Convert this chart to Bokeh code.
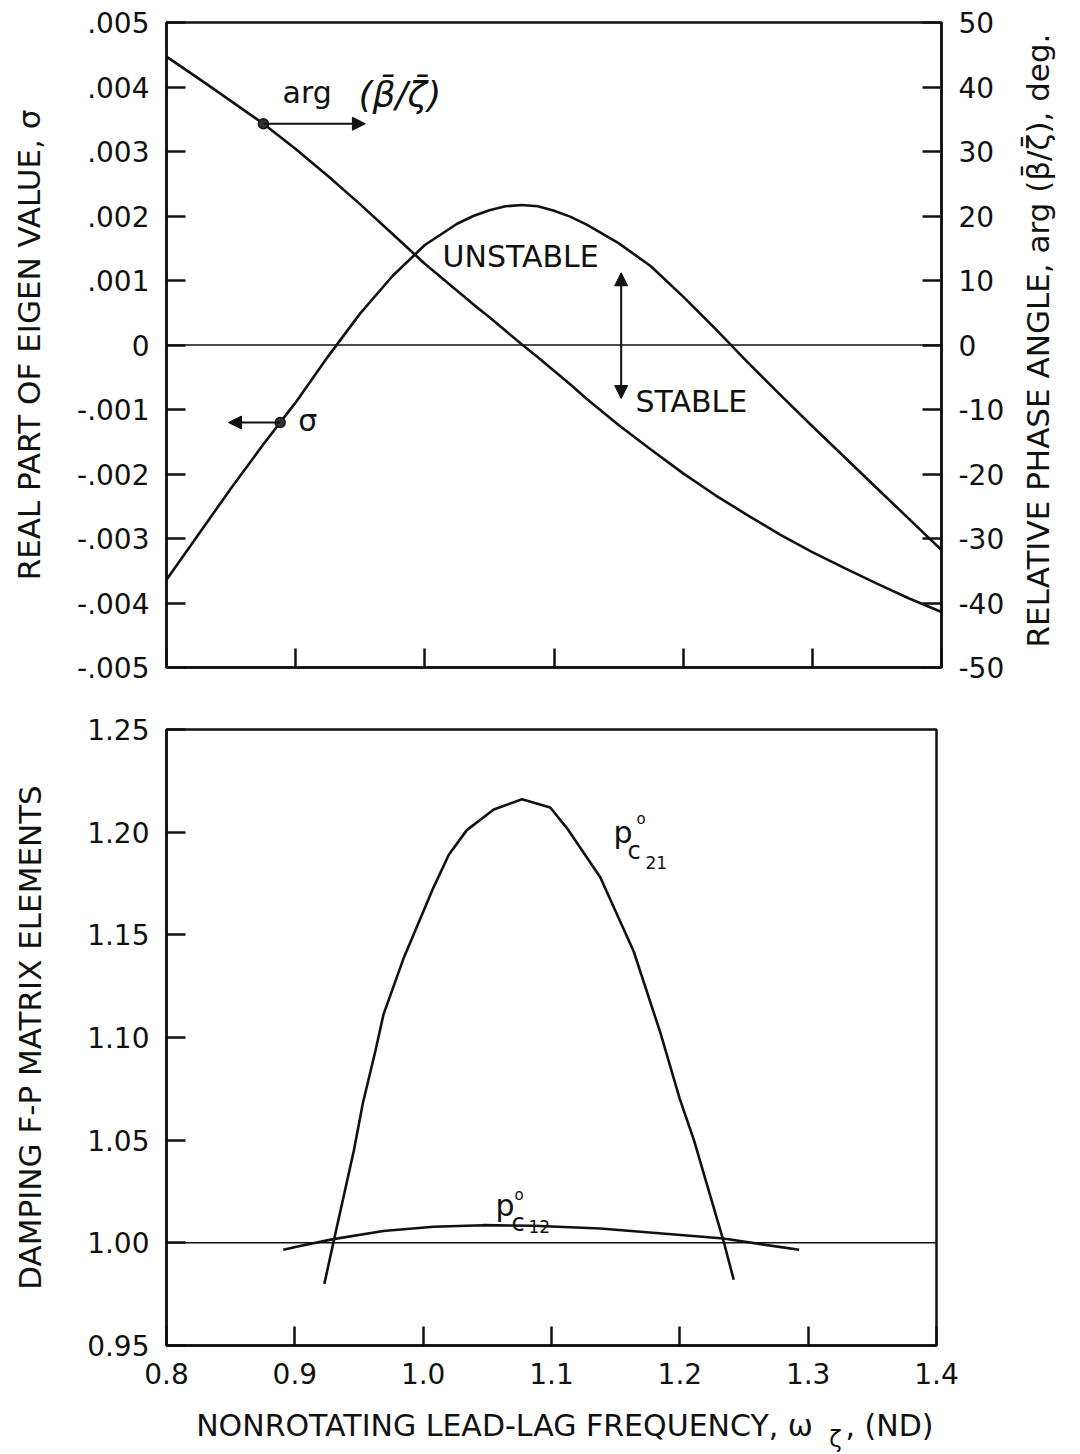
import math
import numpy as np
from bokeh.plotting import figure
from bokeh.models import (Range1d, LinearAxis, FixedTicker, CustomJSTickFormatter,
                          PrintfTickFormatter, Label, Arrow, NormalHead, Span)
from bokeh.layouts import column, row
from bokeh.embed import file_html
from bokeh.resources import INLINE

# ---------------- data ----------------
freq_top = [0.800, 0.825, 0.850, 0.875, 0.900, 0.925, 0.950, 0.975, 1.000, 1.025,
            1.0375, 1.050, 1.0625, 1.075, 1.0875, 1.100, 1.1125, 1.125, 1.150, 1.175,
            1.200, 1.225, 1.250, 1.275, 1.300, 1.325, 1.350, 1.375, 1.400]
sigma = [-0.00364, -0.00293, -0.00222, -0.00154, -0.00089, -0.00018, 0.00049, 0.00107,
         0.00155, 0.00188, 0.00200, 0.00209, 0.00215, 0.00217, 0.00215, 0.00208,
         0.00199, 0.00187, 0.00158, 0.00122, 0.00075, 0.00025, -0.00027, -0.00077,
         -0.00126, -0.00174, -0.00222, -0.00270, -0.00318]
phase_deg = [44.7, 41.3, 37.8, 34.3, 30.4, 26.2, 21.8, 17.2, 12.6, 8.4,
             6.3, 4.3, 2.2, 0.1, -1.9, -4.0, -6.1, -8.3, -12.4, -16.2,
             -19.9, -23.3, -26.4, -29.4, -32.1, -34.6, -37.0, -39.3, -41.4]

freq_p21 = [0.923, 0.930, 0.946, 0.953, 0.963, 0.969, 0.985, 1.008, 1.020, 1.034,
            1.055, 1.077, 1.099, 1.112, 1.138, 1.164, 1.185, 1.200, 1.211, 1.234, 1.242]
p_c21 = [0.980, 1.000, 1.045, 1.068, 1.094, 1.111, 1.139, 1.173, 1.189, 1.201,
         1.211, 1.216, 1.212, 1.202, 1.178, 1.142, 1.102, 1.070, 1.050, 1.001, 0.982]

freq_p12 = [0.891, 0.904, 0.930, 0.969, 1.008, 1.047, 1.086, 1.138, 1.203, 1.234,
            1.268, 1.293]
p_c12 = [0.9966, 0.9985, 1.0018, 1.0058, 1.0078, 1.0086, 1.0083, 1.0070, 1.0037,
         1.0021, 0.9989, 0.9966]

x_ticks = [0.8, 0.9, 1.0, 1.1, 1.2, 1.3, 1.4]
sigma_ticks = [-0.005, -0.004, -0.003, -0.002, -0.001, 0.0, 0.001, 0.002, 0.003, 0.004, 0.005]
phase_ticks = [-50, -40, -30, -20, -10, 0, 10, 20, 30, 40, 50]
damp_ticks = [0.95, 1.00, 1.05, 1.10, 1.15, 1.20, 1.25]

# marker positions on the curves (frequency)
arg_marker_f = 0.875
sigma_marker_f = 0.888

FONT = "DejaVu Sans"
INK = "#111111"


def style(p):
    p.outline_line_color = INK
    p.outline_line_width = 2.5
    p.outline_line_alpha = 1.0
    p.background_fill_color = "white"
    p.border_fill_color = "white"
    p.grid.visible = False
    for ax in p.axis:
        ax.axis_line_width = 2.5
        ax.axis_line_color = INK
        ax.major_tick_in = 19
        ax.major_tick_out = 0
        ax.major_tick_line_width = 2.5
        ax.major_tick_line_color = INK
        ax.minor_tick_line_color = None
        ax.major_label_text_font = FONT
        ax.major_label_text_font_size = "28px"
        ax.major_label_text_color = INK
        ax.major_label_standoff = 17
        ax.axis_label_text_font = FONT
        ax.axis_label_text_font_style = "normal"
        ax.axis_label_text_font_size = "31px"
        ax.axis_label_text_color = INK


def text_strip(width, height, x_range, y_range, **borders):
    s = figure(width=width, height=height, output_backend="svg", toolbar_location=None,
               x_range=x_range, y_range=y_range, x_axis_type=None, y_axis_type=None,
               **borders)
    s.outline_line_color = None
    s.grid.visible = False
    s.background_fill_color = "white"
    s.border_fill_color = "white"
    return s


lbl = dict(text_font=FONT, text_color=INK)
ab = dict(text_baseline="alphabetic", **lbl)

# ---------------- top panel ----------------
p1 = figure(width=1011, height=705, output_backend="svg", toolbar_location=None,
            x_range=Range1d(0.8, 1.4), y_range=Range1d(-0.005, 0.005),
            min_border_left=166, min_border_right=70, min_border_top=22,
            min_border_bottom=38)
p1.extra_y_ranges = {"phase": Range1d(-50, 50)}
right_ax = LinearAxis(y_range_name="phase")
p1.add_layout(right_ax, "right")
style(p1)
p1.xaxis.ticker = FixedTicker(ticks=x_ticks)
p1.xaxis.formatter = CustomJSTickFormatter(code="return '';")
p1.xaxis.major_label_text_font_size = "0px"
p1.xaxis.major_label_standoff = 0
p1.yaxis[0].ticker = FixedTicker(ticks=sigma_ticks)
p1.yaxis[0].formatter = CustomJSTickFormatter(code="""
    if (Math.abs(tick) < 1e-12) return '0';
    const s = Math.abs(tick).toFixed(3).replace(/^0/, '');
    return (tick < 0 ? '-' : '') + s;""")
p1.yaxis[0].axis_label = "REAL PART OF EIGEN VALUE, \u03c3"
p1.yaxis[0].axis_label_standoff = 27
right_ax.ticker = FixedTicker(ticks=phase_ticks)
right_ax.formatter = CustomJSTickFormatter(code="return tick.toFixed(0);")

p1.add_layout(Span(location=0, dimension="width", line_color=INK, line_width=1.5))
p1.line(freq_top, sigma, line_color=INK, line_width=2.6)
p1.line(freq_top, phase_deg, line_color=INK, line_width=2.6, y_range_name="phase")

arg_marker_v = float(np.interp(arg_marker_f, freq_top, phase_deg))
sigma_marker_v = float(np.interp(sigma_marker_f, freq_top, sigma))
p1.scatter([arg_marker_f], [arg_marker_v], y_range_name="phase", size=10,
           fill_color="#333333", line_color=INK, line_width=1.5)
p1.scatter([sigma_marker_f], [sigma_marker_v], size=10,
           fill_color="#333333", line_color=INK, line_width=1.5)

head = dict(size=13, fill_color=INK, line_color=INK)
p1.add_layout(Arrow(end=NormalHead(**head), x_start=arg_marker_f, y_start=arg_marker_v,
                    x_end=0.954, y_end=arg_marker_v, y_range_name="phase",
                    line_color=INK, line_width=2))
p1.add_layout(Arrow(end=NormalHead(**head), x_start=sigma_marker_f, y_start=sigma_marker_v,
                    x_end=0.848, y_end=sigma_marker_v, line_color=INK, line_width=2))
p1.add_layout(Arrow(start=NormalHead(**head), end=NormalHead(**head),
                    x_start=1.152, y_start=-0.00083, x_end=1.152, y_end=0.00112,
                    line_color=INK, line_width=2))

p1.add_layout(Label(x=0.8898, y=0.00392, text="arg", text_font_size="30px", **ab))
p1.add_layout(Label(x=0.9486, y=0.00388, text="(\u03b2\u0304/\u03b6\u0304)", text_font_size="36px",
                    text_font_style="italic", **ab))
p1.add_layout(Label(x=0.902, y=-0.00117, text="\u03c3", text_font_size="30px",
                    text_baseline="middle", **lbl))
p1.add_layout(Label(x=1.0137, y=0.00137, text="UNSTABLE", text_font_size="30px",
                    text_baseline="middle", **lbl))
p1.add_layout(Label(x=1.163, y=-0.00088, text="STABLE", text_font_size="30px",
                    text_baseline="middle", **lbl))

# right-hand axis title (reads bottom to top), in its own text strip
p1r = text_strip(61, 705, Range1d(0, 61), Range1d(0, 645),
                 min_border_left=0, min_border_right=0, min_border_top=22,
                 min_border_bottom=38)
p1r.add_layout(Label(x=26, y=327, angle=math.pi / 2, text_align="center",
                     text_baseline="middle", text_font_size="31px",
                     text="RELATIVE PHASE ANGLE, arg (\u03b2\u0304/\u03b6\u0304), deg.", **lbl))

# ---------------- bottom panel ----------------
p2 = figure(width=1072, height=690, output_backend="svg", toolbar_location=None,
            x_range=Range1d(0.8, 1.4), y_range=Range1d(0.95, 1.25),
            min_border_left=166, min_border_right=136, min_border_top=24,
            min_border_bottom=50)
style(p2)
p2.xaxis.ticker = FixedTicker(ticks=x_ticks)
p2.xaxis.formatter = PrintfTickFormatter(format="%.1f")
p2.yaxis.ticker = FixedTicker(ticks=damp_ticks)
p2.yaxis.formatter = PrintfTickFormatter(format="%.2f")
p2.yaxis.axis_label = "DAMPING F-P MATRIX ELEMENTS"
p2.yaxis.axis_label_standoff = 36

p2.add_layout(Span(location=1.0, dimension="width", line_color=INK, line_width=1.5))
p2.line(freq_p21, p_c21, line_color=INK, line_width=2.6)
p2.line(freq_p12, p_c12, line_color=INK, line_width=2.6)

# p°c21
p2.add_layout(Label(x=1.1483, y=1.2000, text="p", text_font_size="30px", **ab))
p2.add_layout(Label(x=1.1662, y=1.2062, text="o", text_font_size="15px", **ab))
p2.add_layout(Label(x=1.1592, y=1.1906, text="c", text_font_size="24px", **ab))
p2.add_layout(Label(x=1.1732, y=1.1853, text="21", text_font_size="17px", **ab))
# p°c12
p2.add_layout(Label(x=1.0564, y=1.0182, text="p", text_font_size="30px", **ab))
p2.add_layout(Label(x=1.0712, y=1.0231, text="o", text_font_size="15px", **ab))
p2.add_layout(Label(x=1.0688, y=1.0099, text="c", text_font_size="24px", **ab))
p2.add_layout(Label(x=1.0820, y=1.0080, text="12", text_font_size="17px", **ab))

# ---------------- x-axis title strip (text only, with subscript) ----------------
p3 = text_strip(1072, 57, Range1d(166, 936), Range1d(0, 57),
                min_border_left=166, min_border_right=136, min_border_top=0,
                min_border_bottom=0)
p3.add_layout(Label(x=822, y=27, text="NONROTATING  LEAD-LAG FREQUENCY, \u03c9",
                    text_font_size="30px", text_align="right", **ab))
p3.add_layout(Label(x=835, y=14, text="\u03b6", text_font_size="23px",
                    text_align="center", **ab))
p3.add_layout(Label(x=845, y=27, text=", (ND)", text_font_size="30px", **ab))

layout = column(row(p1, p1r), p2, p3)
open("out.html", "w").write(file_html(layout, INLINE))
